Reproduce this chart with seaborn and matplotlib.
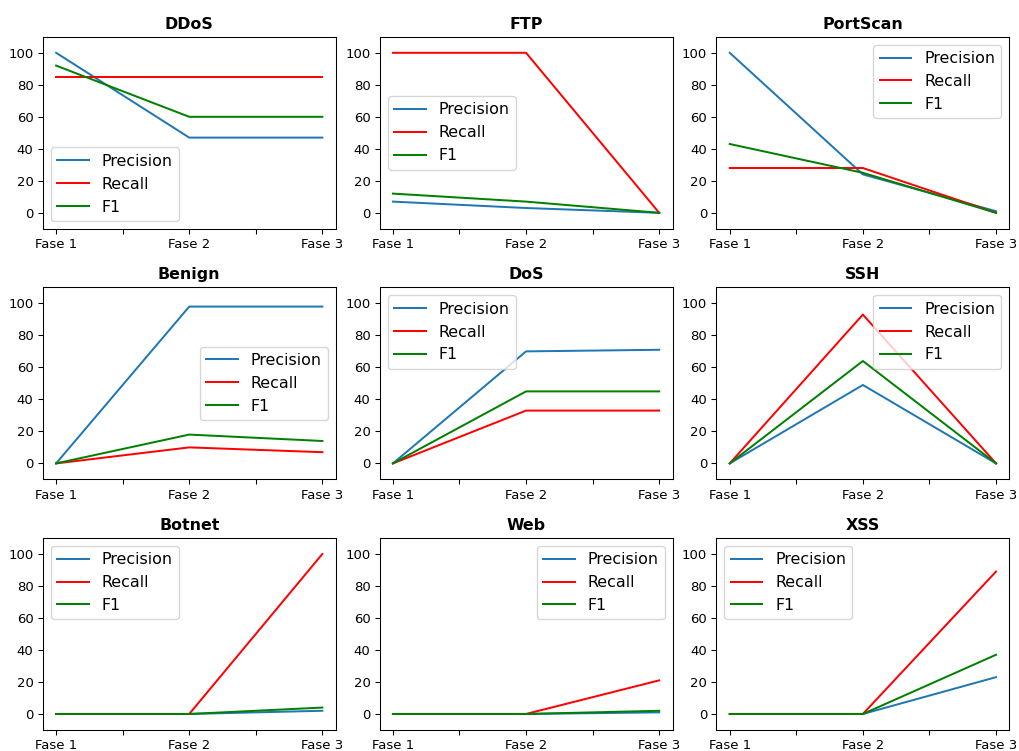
import matplotlib
matplotlib.use("Agg")
import matplotlib.pyplot as plt
import seaborn as sns
import pandas as pd

phases = ["Fase 1", "Fase 2", "Fase 3"]
attacks = ["DDoS", "FTP", "PortScan", "Benign", "DoS", "SSH", "Botnet", "Web", "XSS"]

precision = {
    "DDoS": [100, 47, 47],
    "FTP": [7, 3, 0],
    "PortScan": [100, 24, 1],
    "Benign": [0, 98, 98],
    "DoS": [0, 70, 71],
    "SSH": [0, 49, 0],
    "Botnet": [0, 0, 2],
    "Web": [0, 0, 1],
    "XSS": [0, 0, 23],
}
recall = {
    "DDoS": [85, 85, 85],
    "FTP": [100, 100, 0],
    "PortScan": [28, 28, 0],
    "Benign": [0, 10, 7],
    "DoS": [0, 33, 33],
    "SSH": [0, 93, 0],
    "Botnet": [0, 0, 100],
    "Web": [0, 0, 21],
    "XSS": [0, 0, 89],
}
f1 = {
    "DDoS": [92, 60, 60],
    "FTP": [12, 7, 0],
    "PortScan": [43, 25, 0],
    "Benign": [0, 18, 14],
    "DoS": [0, 45, 45],
    "SSH": [0, 64, 0],
    "Botnet": [0, 0, 4],
    "Web": [0, 0, 2],
    "XSS": [0, 0, 37],
}

metrics = {"Precision": precision, "Recall": recall, "F1": f1}
colors = {"Precision": "tab:blue", "Recall": "red", "F1": "green"}

rows = []
for attack in attacks:
    for metric, table in metrics.items():
        for i, v in enumerate(table[attack]):
            rows.append({"attack": attack, "metric": metric, "phase": i, "value": v})
df = pd.DataFrame(rows)

DPI = 95
fig, axes = plt.subplots(3, 3, figsize=(1019 / DPI, 751 / DPI), dpi=DPI)
fig.subplots_adjust(left=0.042, right=0.9905, top=0.951, bottom=0.028,
                    wspace=0.15, hspace=0.305)
for ax, attack in zip(axes.flat, attacks):
    sub = df[df["attack"] == attack]
    sns.lineplot(data=sub, x="phase", y="value", hue="metric",
                 hue_order=list(metrics), palette=colors, ax=ax)
    ax.set_title(attack, fontweight="bold")
    ax.set_ylim(-10, 110)
    ax.set_xticks([0, 0.5, 1, 1.5, 2])
    ax.set_xticklabels(["Fase 1", "", "Fase 2", "", "Fase 3"])
    ax.set_xlabel("")
    ax.set_ylabel("")
    ax.legend(loc="best", fontsize=12, title=None)

fig.savefig("out.png", dpi=DPI)
